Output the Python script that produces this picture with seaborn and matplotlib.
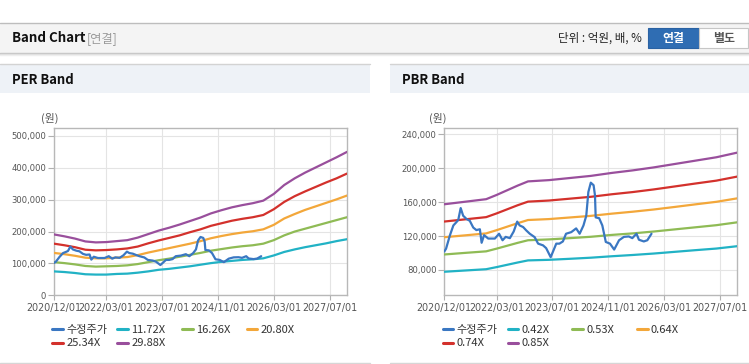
import matplotlib
matplotlib.use("Agg")
import matplotlib.pyplot as plt
import seaborn as sns
import pandas as pd
from matplotlib.patches import Rectangle
from matplotlib.transforms import Affine2D
from matplotlib.ticker import FuncFormatter
from matplotlib.font_manager import FontProperties

# ------------------------------------------------------------------ data
x_tick_labels = ["2020/12/01", "2022/03/01", "2023/07/01", "2024/11/01", "2026/03/01", "2027/07/01"]
start_label = "2020/12/01"
end_label = "2027/12/01"

# adjusted share price (months since 2020/12)
price_t = [0, 0.5, 1.6, 2.6, 3.5, 4.0, 4.7, 5.4, 6.4, 7.3, 8.3, 9.2, 10.2, 10.7, 11.4, 12.6, 14.5,
           15.7, 16.7, 17.6, 18.8, 19.9, 20.9, 21.6, 22.6, 23.5, 24.5, 25.9, 26.9, 28.3, 29.2, 30.5,
           31.1, 32.1, 33.0, 34.0, 34.9, 36.4, 37.8, 38.8, 39.9, 40.7, 41.3, 42.0, 42.8, 43.2, 43.4,
           44.4, 45.3, 46.3, 47.5, 48.7, 50.1, 51.5, 52.9, 53.9, 55.1, 55.8, 57.2, 58.2, 59.4]
price_v = [101700, 105000, 120700, 132500, 136500, 139000, 153000, 144000, 140000, 138000, 130000,
           127000, 128000, 112000, 121000, 117000, 117000, 122700, 115000, 119000, 117500, 125400,
           137000, 132500, 130600, 126600, 122700, 118700, 111000, 109000, 105700, 95000, 101000,
           111000, 111000, 113600, 122700, 124600, 129000, 122700, 132500, 144000, 172000, 183000,
           180000, 168000, 142000, 141000, 132500, 113000, 111000, 104000, 115000, 119000, 119500,
           117500, 122700, 115600, 113600, 115000, 122700]
price_name = "수정주가"

# PER band (months since 2020/12)
per_t = [0, 3, 6, 9, 12, 15, 18, 21, 24, 27, 30, 33, 36, 39, 42, 45, 48, 51, 54, 57, 60, 63, 66,
         69, 72, 75, 78, 81, 84]
per_names = ["11.72X", "16.26X", "20.80X", "25.34X", "29.88X"]
per_1172 = [75000, 73000, 70000, 66000, 65000, 65000, 67000, 68000, 71000, 75000, 80000, 83000,
            87000, 91000, 96000, 101000, 105000, 108000, 111000, 113000, 116000, 125000, 136000,
            144000, 151000, 157000, 163000, 170000, 176000]
per_1626 = [104000, 101000, 97000, 92000, 90000, 91000, 92000, 94000, 98000, 104000, 110000,
            115000, 121000, 127000, 133000, 140000, 145000, 150000, 154000, 157000, 162000, 173000,
            188000, 200000, 209000, 218000, 227000, 236000, 245000]
per_2080 = [133000, 129000, 124000, 118000, 116000, 116000, 118000, 120000, 126000, 134000,
            141000, 148000, 155000, 162000, 170000, 179000, 186000, 192000, 197000, 201000, 207000,
            221000, 241000, 255000, 268000, 279000, 290000, 301000, 313000]
per_2534 = [162000, 157000, 151000, 143000, 141000, 142000, 144000, 147000, 153000, 163000,
            172000, 180000, 188000, 198000, 207000, 218000, 226000, 234000, 240000, 245000, 252000,
            270000, 293000, 311000, 326000, 340000, 354000, 367000, 382000]
per_2988 = [191000, 185000, 178000, 169000, 166000, 167000, 170000, 173000, 181000, 192000,
            203000, 212000, 222000, 233000, 244000, 257000, 267000, 276000, 283000, 289000, 297000,
            318000, 346000, 367000, 385000, 401000, 417000, 433000, 450000]

# PBR band (months since 2020/12)
pbr_t = [0, 6, 12, 15, 18, 21, 24, 30, 36, 42, 48, 54, 60, 66, 72, 78, 84]
pbr_names = ["0.42X", "0.53X", "0.64X", "0.74X", "0.85X"]
pbr_042 = [77800, 79300, 80800, 83300, 86000, 88700, 91200, 91900, 93100, 94400, 96100, 97600,
           99300, 101300, 103300, 105200, 108000]
pbr_053 = [98200, 100100, 101900, 105100, 108500, 111900, 115000, 116000, 117500, 119100, 121300,
           123100, 125300, 127800, 130300, 132800, 136200]
pbr_064 = [118600, 120800, 123100, 126900, 131000, 135100, 138900, 140000, 141900, 143800, 146400,
           148700, 151300, 154300, 157400, 160400, 164500]
pbr_074 = [137100, 139700, 142300, 146700, 151500, 156300, 160600, 161900, 164100, 166300, 169300,
           171900, 175000, 178500, 182000, 185400, 190200]
pbr_085 = [157500, 160500, 163500, 168500, 174000, 179500, 184500, 186000, 188500, 191000, 194500,
           197500, 201000, 205000, 209000, 213000, 218500]

# ------------------------------------------------------------------ style
price_color = "#3a77c2"
band_colors = ["#21b2c5", "#8fbb55", "#f3a73a", "#d3312c", "#994f9c"]

sns.set_theme(style="white")
plt.rcParams["font.family"] = ["DejaVu Sans", "Noto Sans CJK KR"]

W, H = 749, 364
fig = plt.figure(figsize=(W / 100, H / 100), dpi=100)
fig.patch.set_facecolor("white")
T = Affine2D().scale(1 / W, -1 / H).translate(0, 1) + fig.transFigure

kr = ["Noto Sans CJK KR", "DejaVu Sans"]


def rect(x0, y0, x1, y1, fc, ec="none", lw=0, z=0):
    fig.add_artist(Rectangle((x0, y0), x1 - x0, y1 - y0, transform=T, facecolor=fc,
                             edgecolor=ec, linewidth=lw, zorder=z))


def hline(x0, x1, y, color, lw=1.0):
    fig.add_artist(plt.Line2D([x0, x1], [y, y], transform=T, color=color, linewidth=lw))


# top header bar
rect(0, 22.7, W, 52.7, "#f4f4f4")
hline(0, W, 22.7, "#bdbdbd", 1.0)
hline(0, W, 52.9, "#c4c4c4", 1.0)
hline(0, W, 54.0, "#dddddd", 1.0)
hline(0, W, 55.0, "#eeeeee", 1.0)
fig.text(12, 38.5, "Band Chart", transform=T, family=kr, weight="bold", fontsize=9.6,
         color="#111111", va="center", ha="left")
fig.text(87, 38.5, "[연결]", transform=T, family=kr, fontsize=8.8, color="#9a9a9a",
         va="center", ha="left")
fig.text(642, 38.5, "단위 : 억원, 배, %", transform=T, family=kr, fontsize=8.3, color="#222222",
         va="center", ha="right")
rect(648.3, 28.3, 699.3, 47.7, "#2f6db3", ec="#2a62a3", lw=0.8)
rect(699.3, 28.3, 748.3, 47.7, "#ffffff", ec="#c6c6c6", lw=0.8)
fig.text(673.8, 38.2, "연결", transform=T, family=kr, weight="bold", fontsize=8.6,
         color="white", va="center", ha="center")
fig.text(723.8, 38.2, "별도", transform=T, family=kr, weight="bold", fontsize=8.6,
         color="#555555", va="center", ha="center")

# panel headers
for (x0, x1, title) in [(0, 370, "PER Band"), (390, W, "PBR Band")]:
    rect(x0, 64.3, x1, 92.7, "#eef2f7")
    hline(x0, x1, 64.3, "#d3d3d3", 1.0)
    hline(x0, x1, 362.5, "#d6d6d6", 1.0)
    fig.text(x0 + 11.5, 79.6, title, transform=T, family=kr, weight="bold", fontsize=9.4,
             color="#111111", va="center", ha="left")


def month_index(label):
    y, m, _ = label.split("/")
    return (int(y) - 2020) * 12 + int(m) - 12


tick_pos = [month_index(s) for s in x_tick_labels]
x0m, x1m = month_index(start_label), month_index(end_label)


def draw_panel(left_px, band_t, band_vals, band_names, ylim, yticks, unit_x):
    ax = fig.add_axes([left_px / W, 1 - 295.3 / H, 293 / W, 167 / H])
    ax.set_facecolor("white")
    handles = []
    for vals, name, col in zip(band_vals, band_names, band_colors):
        df = pd.DataFrame({"t": band_t, "v": vals})
        sns.lineplot(data=df, x="t", y="v", ax=ax, color=col, linewidth=1.6,
                     estimator=None, label=name, zorder=3)
        handles.append(ax.lines[-1])
    dfp = pd.DataFrame({"t": price_t, "v": price_v})
    sns.lineplot(data=dfp, x="t", y="v", ax=ax, color=price_color, linewidth=1.6,
                 estimator=None, label=price_name, zorder=4)
    handles.insert(0, ax.lines[-1])
    if ax.get_legend() is not None:
        ax.get_legend().remove()

    ax.set_xlim(x0m, x1m)
    ax.set_ylim(*ylim)
    ax.set_xticks(tick_pos)
    ax.set_xticklabels(x_tick_labels)
    ax.set_yticks(yticks)
    ax.yaxis.set_major_formatter(FuncFormatter(lambda v, p: f"{v:,.0f}"))
    ax.set_xlabel("")
    ax.set_ylabel("")
    ax.grid(True, color="#e4e4e4", linewidth=0.8)
    ax.set_axisbelow(True)
    for s in ax.spines.values():
        s.set_visible(True)
        s.set_color("#b8b8b8")
        s.set_linewidth(1.0)
    ax.tick_params(axis="y", length=4, width=0.8, color="#b0b0b0", pad=1.5,
                   labelsize=6.1, labelcolor="#555555", left=True)
    ax.tick_params(axis="x", length=3.5, width=0.8, color="#b0b0b0", pad=2.2,
                   labelsize=6.9, labelcolor="#555555", bottom=True)
    fig.text(unit_x, 118.3, "(원)", transform=T, family=kr, fontsize=7.8, color="#555555",
             va="center", ha="center")

    # legend (one legend box per entry, laid out in two rows)
    base = left_px - 1.6
    labels = [price_name] + band_names
    slots = [(0, 0), (1, 0), (2, 0), (3, 0), (0, 1), (1, 1)]
    prop = FontProperties(family=kr, size=8.0)
    for h, lab, (c, r) in zip(handles, labels, slots):
        lx = base + 64.8 * c
        ly = 330.0 + 13.4 * r
        lh = plt.Line2D([], [], color=h.get_color(), linewidth=2.2)
        fig.legend(handles=[lh], labels=[lab], loc="center left", bbox_to_anchor=(lx, ly),
                   bbox_transform=T, frameon=False, handlelength=0.95, handletextpad=0.3,
                   borderpad=0, borderaxespad=0, prop=prop, labelcolor="#333333")
    return ax


draw_panel(54.0, per_t, [per_1172, per_1626, per_2080, per_2534, per_2988], per_names,
           (0, 524000), [0, 100000, 200000, 300000, 400000, 500000], 50)
draw_panel(444.3, pbr_t, [pbr_042, pbr_053, pbr_064, pbr_074, pbr_085], pbr_names,
           (50000, 247200), [80000, 120000, 160000, 200000, 240000], 437.5)

fig.savefig("out.png", dpi=100)
